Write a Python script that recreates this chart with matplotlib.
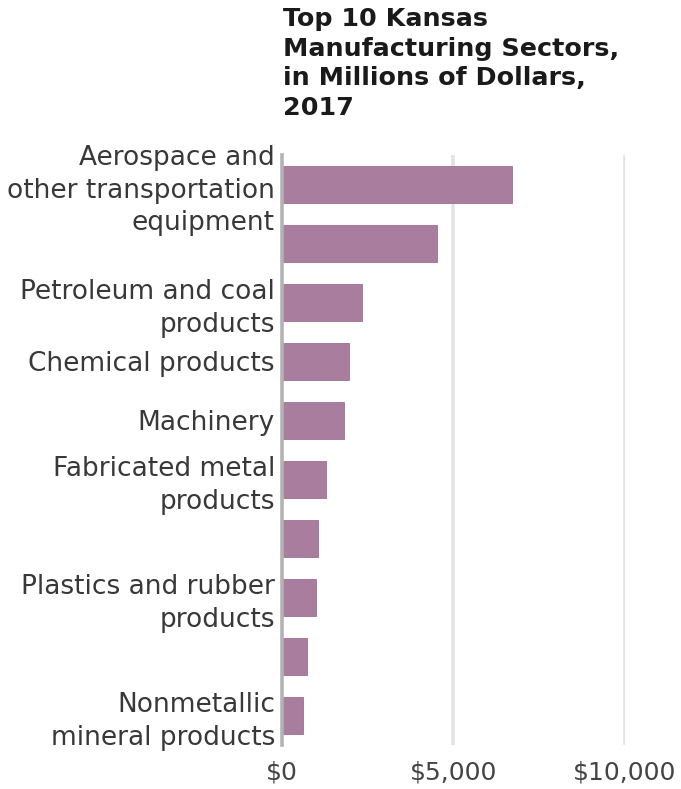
import matplotlib
matplotlib.use("Agg")
import matplotlib.pyplot as plt
from matplotlib.ticker import FuncFormatter

# sectors, top to bottom (some labels are not shown in the source chart)
sectors = [
    "Aerospace and\nother transportation\nequipment",
    "",
    "Petroleum and coal\nproducts",
    "Chemical products",
    "Machinery",
    "Fabricated metal\nproducts",
    "",
    "Plastics and rubber\nproducts",
    "",
    "Nonmetallic\nmineral products",
]
values = [6700, 4520, 2330, 1950, 1810, 1280, 1050, 990, 740, 600]
x_ticks = [0, 5000, 10000]

bar_color = "#a97d9e"
text_color = "#383838"

fig = plt.figure(figsize=(6.81, 7.89), dpi=100)
ax = fig.add_axes([0.414, 0.0558, 0.5037, 0.748])

pos = list(range(len(values)))
ax.barh(pos, values, height=0.63, color=bar_color, edgecolor="#9f6f93", linewidth=0.6, zorder=3)

ax.set_xlim(0, 10000)
ax.set_ylim(len(values) - 0.5, -0.5)
ax.set_xticks(x_ticks)
ax.xaxis.set_major_formatter(FuncFormatter(lambda v, p: f"${v:,.0f}"))
ax.set_yticks(pos)
ax.set_yticklabels(sectors, linespacing=1.33)

for v in x_ticks[1:]:
    ax.axvline(v, color="#e3e3e3", linewidth=2.6, zorder=1)

for side in ["top", "right", "bottom"]:
    ax.spines[side].set_visible(False)
ax.spines["left"].set_color("#b3b3b3")
ax.spines["left"].set_linewidth(2.6)
ax.spines["left"].set_zorder(4)

ax.tick_params(axis="y", length=0, pad=5, labelsize=19, labelcolor=text_color)
ax.tick_params(axis="x", length=0, pad=11, labelsize=18, labelcolor="#444444")

fig.text(283 / 681, 1 - 7 / 789, "Top 10 Kansas\nManufacturing Sectors,\nin Millions of Dollars,\n2017",
         ha="left", va="top", fontsize=18.3, fontweight="bold", color="#1a1a1a", linespacing=1.3)

fig.savefig("out.png", dpi=100)
